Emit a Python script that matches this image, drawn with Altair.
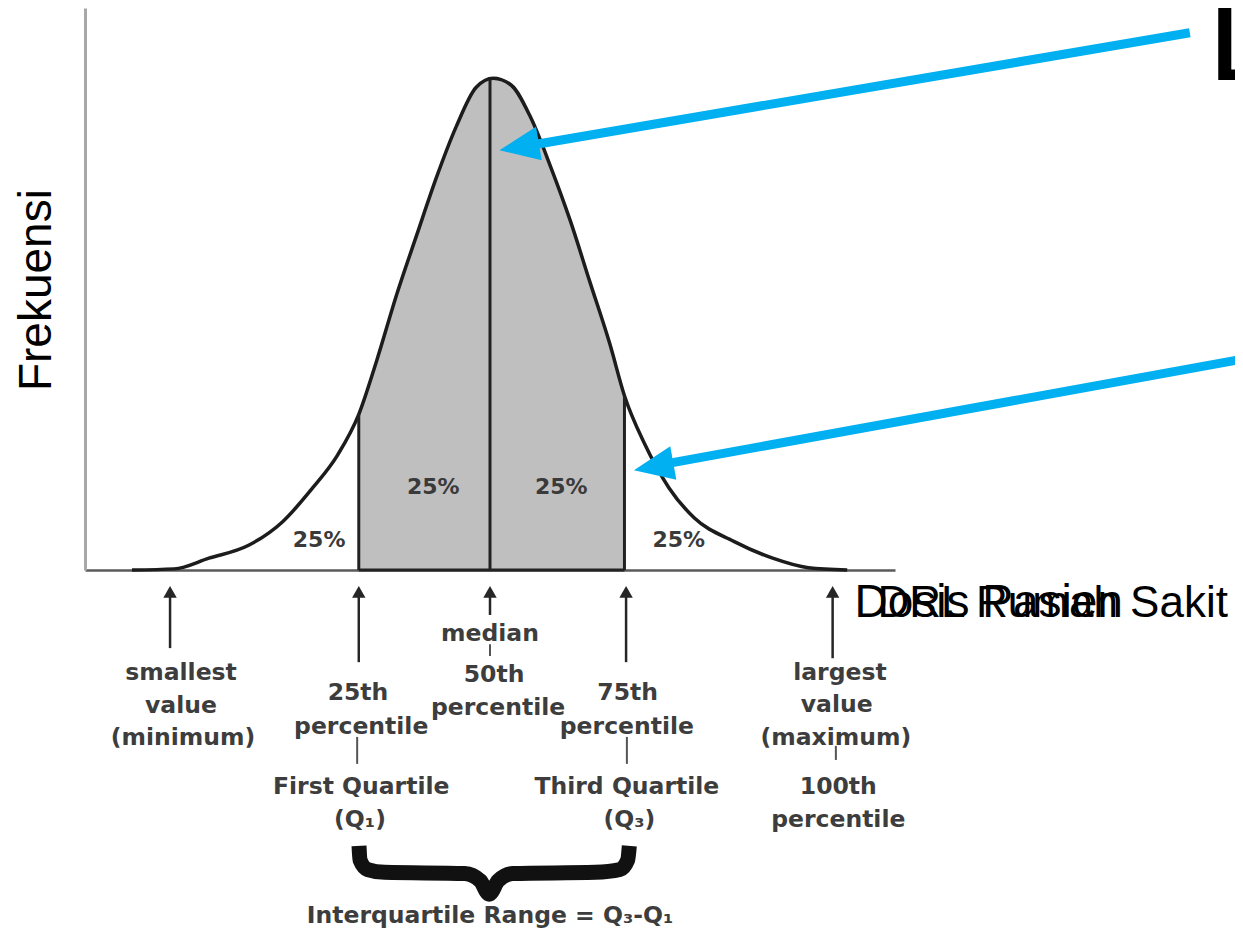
import altair as alt
import pandas as pd

# ---- distribution curve (x: dose units, y: relative frequency) ----
dose = [5.8, 11.0, 15.3, 20.2, 24.4, 28.1, 31.2, 33.8, 36.0, 38.5, 41.0, 43.4, 45.8, 48.3,
        50.4, 52.6, 55.0, 57.5, 59.9, 62.3, 64.8, 66.6, 69.1, 72.1, 75.2, 80.1, 84.9, 89.3, 94.1]
freq = [0.0, 0.2, 2.1, 4.4, 8.6, 14.6, 20.5, 27.7, 37.2, 49.1, 59.8, 69.9, 78.8, 85.9,
        87.5, 86.3, 80.6, 71.7, 62.2, 51.4, 40.2, 31.0, 22.4, 14.6, 9.3, 5.1, 2.1, 0.4, 0.0]

q_pos = [33.8, 50.0, 66.6]          # Q1, median, Q3
q_top = [27.7, 87.3, 31.0]

pct_text = ["25%", "25%", "25%", "25%"]
pct_x = [28.9, 43.0, 58.8, 73.3]
pct_y = [5.4, 14.8, 14.8, 5.4]

# ---- annotation texts below the axis ----
note_text = ["smallest", "value", "(minimum)",
             "25th", "percentile", "First Quartile", "(Q\u2081)",
             "median", "50th", "percentile",
             "75th", "percentile", "Third Quartile", "(Q\u2083)",
             "largest", "value", "(maximum)", "100th", "percentile"]
note_x = [11.85, 11.85, 12.1,
          33.7, 34.1, 34.1, 33.95,
          50.0, 50.5, 51.0,
          67.0, 66.9, 66.9, 67.2,
          93.2, 92.8, 92.7, 93.0, 93.0]
note_y = [-18.3, -24.2, -29.9,
          -21.9, -27.9, -38.6, -44.5,
          -11.4, -18.7, -24.6,
          -21.9, -27.9, -38.6, -44.5,
          -18.3, -24.0, -29.9, -38.6, -44.5]

iqr_text = ["Interquartile Range = Q\u2083-Q\u2081"]
iqr_x = [50.0]
iqr_y = [-61.6]

# small black arrows pointing up to the axis
arr_x = [10.5, 33.8, 50.0, 66.8, 92.3]
arr_top = [-3.6, -3.6, -3.6, -3.6, -3.6]
arr_bot = [-13.9, -16.4, -8.0, -16.4, -15.7]
head_y = [-3.9, -3.9, -3.9, -3.9, -3.9]

# connector ticks between text lines
tick_x = [33.6, 50.0, 66.9, 92.7]
tick_y0 = [-29.7, -13.2, -29.7, -31.3]
tick_y1 = [-34.5, -15.3, -34.5, -33.8]

# curly brace
brace_x = [33.83, 33.95, 34.9, 37.0, 46.9, 48.8, 49.9, 51.0, 52.8, 63.0, 66.05, 67.0, 67.2]
brace_y = [-49.1, -51.6, -53.3, -53.8, -54.0, -55.3, -57.7, -55.3, -54.0, -53.8, -53.3, -51.6, -49.1]

# blue callout arrows
blue_x0 = [136.4, 145.1]
blue_y0 = [95.6, 38.1]
blue_x1 = [54.3, 71.0]
blue_y1 = [75.4, 18.7]
blue_hx = [53.6, 70.2]
blue_hy = [75.3, 18.4]
blue_ang = [350.4, 349.7]

# titles
title_text = ["Dosis Pasien", "DRL Rumah Sakit", "Frekuensi", "DRL Nasional"]

# ---------------- build ----------------
xs = alt.Scale(domain=[0, 100], nice=False, zero=False)
ys = alt.Scale(domain=[0, 100], nice=False, zero=False)
xax = alt.Axis(labels=False, ticks=False, grid=False, domainColor="#5a5a5a", domainWidth=2.5)
yax = alt.Axis(labels=False, ticks=False, grid=False, domainColor="#a8a8a8", domainWidth=3)


def X(f):
    return alt.X(f"{f}:Q", scale=xs, axis=xax, title=None)


def Y(f):
    return alt.Y(f"{f}:Q", scale=ys, axis=yax, title=None)


curve = pd.DataFrame({"x": dose, "y": freq})
shade = curve[(curve.x >= q_pos[0]) & (curve.x <= q_pos[2])]

area = alt.Chart(shade).mark_area(color="#bfbfbf", interpolate="monotone").encode(x=X("x"), y=Y("y"))
line = alt.Chart(curve).mark_line(color="#1c1c1c", strokeWidth=3.5, interpolate="monotone").encode(
    x=X("x"), y=Y("y"))

qdf = pd.DataFrame({"x": q_pos, "y0": [0, 0, 0], "y1": q_top})
qrules = alt.Chart(qdf).mark_rule(color="#222222", strokeWidth=3).encode(x=X("x"), y=Y("y0"), y2="y1")
base = alt.Chart(pd.DataFrame({"x": [q_pos[0]], "x2": [q_pos[2]], "y": [0]})).mark_rule(
    color="#222222", strokeWidth=3).encode(x=X("x"), x2="x2", y=Y("y"))

pct = alt.Chart(pd.DataFrame({"x": pct_x, "y": pct_y, "t": pct_text})).mark_text(
    font="DejaVu Sans", fontWeight="bold", fontSize=22, color="#3a3a3a").encode(
    x=X("x"), y=Y("y"), text="t:N")

notes = alt.Chart(pd.DataFrame({"x": note_x, "y": note_y, "t": note_text})).mark_text(
    font="DejaVu Sans", fontWeight="bold", fontSize=23.5, color="#3d3d3d", baseline="middle").encode(
    x=X("x"), y=Y("y"), text="t:N")

iqr = alt.Chart(pd.DataFrame({"x": iqr_x, "y": iqr_y, "t": iqr_text})).mark_text(
    font="DejaVu Sans", fontWeight="bold", fontSize=23.5, color="#3d3d3d", baseline="middle").encode(
    x=X("x"), y=Y("y"), text="t:N")

adf = pd.DataFrame({"x": arr_x, "y0": arr_top, "y1": arr_bot, "hy": head_y})
shafts = alt.Chart(adf).mark_rule(color="#262626", strokeWidth=2.5).encode(x=X("x"), y=Y("y0"), y2="y1")
heads = alt.Chart(adf).mark_point(shape="triangle-up", filled=True, size=180, color="#262626",
                                  opacity=1).encode(x=X("x"), y=Y("hy"))

tdf = pd.DataFrame({"x": tick_x, "y0": tick_y0, "y1": tick_y1})
ticks = alt.Chart(tdf).mark_rule(color="#555555", strokeWidth=2).encode(x=X("x"), y=Y("y0"), y2="y1")

bdf = pd.DataFrame({"x": brace_x, "y": brace_y, "o": list(range(len(brace_x)))})
brace = alt.Chart(bdf).mark_line(color="#111111", strokeWidth=15, strokeJoin="round",
                                  interpolate="monotone").encode(x=X("x"), y=Y("y"), order="o:Q")

bl = pd.DataFrame({"x": blue_x0, "y": blue_y0, "x2": blue_x1, "y2": blue_y1,
                   "hx": blue_hx, "hy": blue_hy, "a": blue_ang})
bshaft = alt.Chart(bl).mark_rule(color="#00b0f0", strokeWidth=9).encode(
    x=X("x"), y=Y("y"), x2="x2", y2="y2")
bhead = alt.Chart(bl).mark_point(shape="M -1 0 L 1 -0.85 L 1 0.85 Z", filled=True, size=1600,
                                 color="#00b0f0", opacity=1).encode(
    x=X("hx"), y=Y("hy"), angle=alt.Angle("a:Q", scale=None))

t1 = alt.Chart(pd.DataFrame({"x": [95.0], "y": [-8.4], "t": [title_text[0]]})).mark_text(
    font="Liberation Sans", fontSize=46, color="black", align="left", baseline="alphabetic").encode(
    x=X("x"), y=Y("y"), text="t:N")
t2 = alt.Chart(pd.DataFrame({"x": [141.1], "y": [-8.4], "t": [title_text[1]]})).mark_text(
    font="Liberation Sans", fontSize=44, color="black", align="right", baseline="alphabetic").encode(
    x=X("x"), y=Y("y"), text="t:N")
t3 = alt.Chart(pd.DataFrame({"x": [-5.9], "y": [49.8], "t": [title_text[2]]})).mark_text(
    font="Liberation Sans", fontSize=46, color="black", angle=270, align="center",
    baseline="middle").encode(x=X("x"), y=Y("y"), text="t:N")
t4 = alt.Chart(pd.DataFrame({"x": [138.5], "y": [87.2], "t": [title_text[3]]})).mark_text(
    font="Liberation Sans", fontSize=140, color="black", align="left", baseline="alphabetic").encode(
    x=X("x"), y=Y("y"), text="t:N")

chart = alt.layer(
    area, line, qrules, base, pct, shafts, heads, ticks, notes, brace, iqr,
    bshaft, bhead, t1, t2, t3, t4
).properties(
    width=810, height=562,
    autosize=alt.AutoSizeParams(type="none"),
    padding={"left": 77, "top": 0, "right": 340, "bottom": 360},
    background="white",
).configure_view(stroke=None)

chart.save("out.html", embed_options={"renderer": "svg", "actions": False})
